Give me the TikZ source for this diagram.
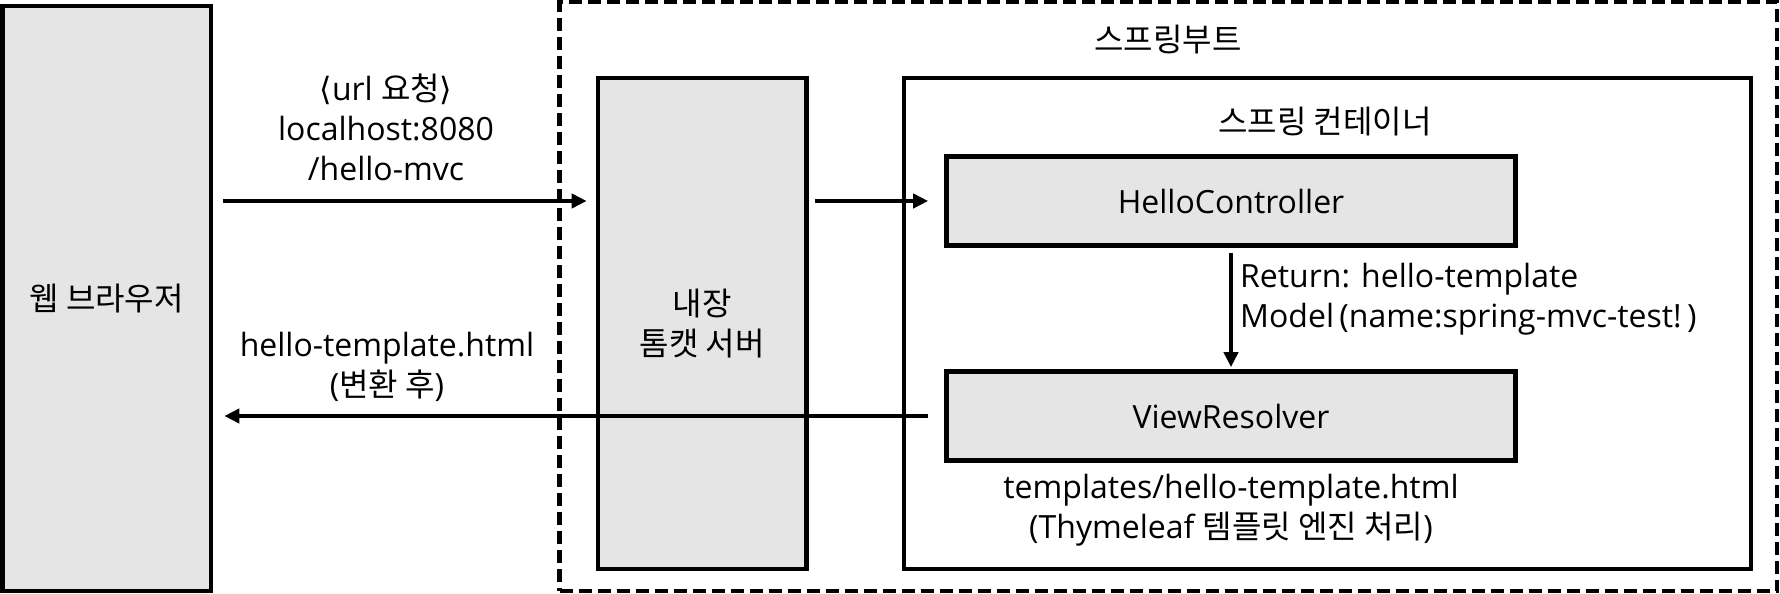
\documentclass[tikz,border=0pt]{standalone}
\usepackage{fontspec}
\setmainfont{Open Sans}
\newfontfamily\krfont{Noto Sans CJK KR}
\newfontfamily\symfont{DejaVu Sans}
\usetikzlibrary{arrows.meta, positioning}

\begin{document}
\begin{tikzpicture}[
    x=1pt, y=-1pt,
    font=\fontsize{32}{40}\selectfont,
    box/.style={rectangle, draw=black, line width=4.6pt, fill=black!10, inner sep=0pt, align=center},
    frame/.style={rectangle, draw=black, line width=4.6pt, inner sep=0pt},
    bootframe/.style={rectangle, draw=black, line width=4.6pt, dash pattern=on 13pt off 6pt, inner sep=0pt},
    note/.style={align=center, inner sep=0pt},
    line/.style={draw=black, line width=4.6pt, -{Triangle[length=15pt, width=14pt]}}
]
\useasboundingbox (0,0) rectangle (1780,594);

% Nodes
\node[bootframe, minimum width=1217.5pt, minimum height=589pt] (boot) at (1168.25,296.5) {};
\node[note] (boottitle) at (1168,40) {\krfont 스프링부트};

\node[box, minimum width=208.7pt, minimum height=585pt] (browser) at (106.65,298.5) {\krfont 웹 브라우저};
\node[box, minimum width=208.5pt, minimum height=491pt] (tomcat) at (702.25,323.5) {\krfont 내장\\\krfont 톰캣 서버};

\node[frame, minimum width=847pt, minimum height=491pt] (cont) at (1327.5,323.5) {};
\node[note] (conttitle) at (1325,122) {\krfont 스프링 컨테이너};

\node[box, minimum width=569pt, minimum height=89pt] (ctrl) at (1231,201) {HelloController};
\node[box, minimum width=569pt, minimum height=89pt] (view) at (1231,416) {ViewResolver};

% Labels
\node[note] (reqnote) at (386,127) {{\symfont ⟨}url {\krfont 요청}{\symfont ⟩}\\localhost:8080\\/hello-mvc};
\node[note] (resnote) at (387,367) {hello-template.html\\({\krfont 변환 후})};
\node[note, anchor=west, align=left] (retnote) at (1240,299) {Return: hello-template\\Model\,(name:spring-mvc-test!\,)};
\node[note, below=11pt of view] (tplnote) {templates/hello-template.html\\(Thymeleaf {\krfont 템플릿 엔진 처리})};

% Arrows
\draw[line, shorten <=10pt, shorten >=9pt] (ctrl -| browser.east) -- (ctrl -| tomcat.west);
\draw[line, shorten <=6pt, shorten >=16pt] (ctrl -| tomcat.east) -- (ctrl.west);
\draw[line, shorten <=5pt, shorten >=2pt] (ctrl.south) -- (view.north);
\draw[line, shorten <=16pt, shorten >=11pt] (view.west) -- (view -| browser.east);

\end{tikzpicture}
\end{document}
